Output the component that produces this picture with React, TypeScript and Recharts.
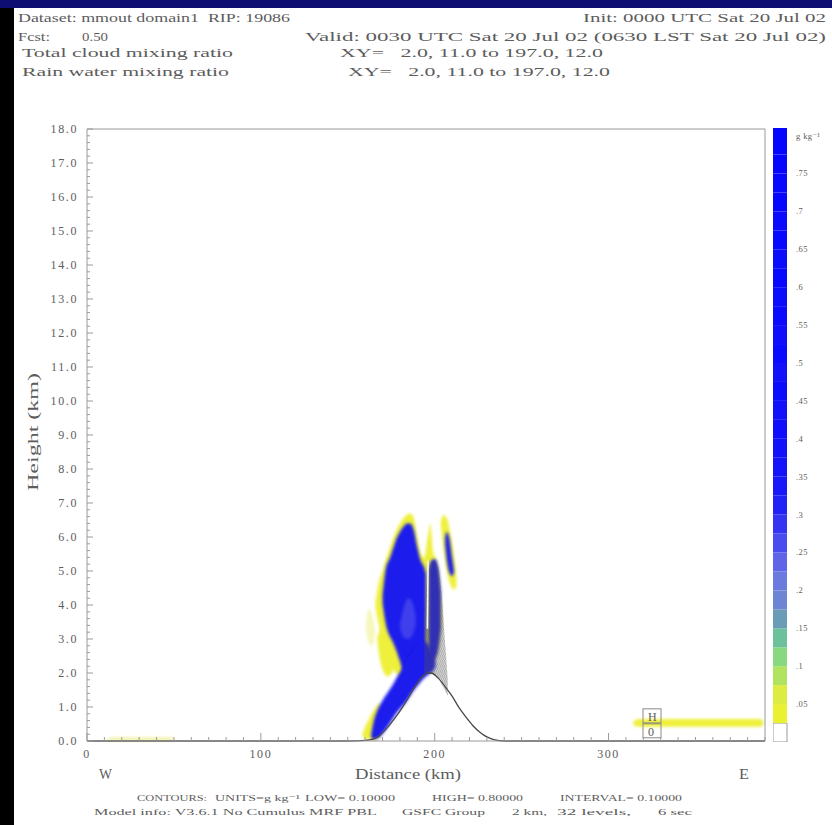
import React from "react";
import {
  ComposedChart,
  Area,
  Line,
  XAxis,
  YAxis,
  ReferenceDot,
  BarChart,
  Bar,
} from "recharts";

// ── Data ──────────────────────────────────────────────────────────────────────
// each cell: [distance km, bottom height km, top height km] of a shaded patch

type Cell = [number, number, number];

const surfaceStreak: Cell[] = [[12, 0.0, 0.06], [14, 0.0, 0.1], [48, 0.0, 0.1], [50, 0.0, 0.06]];
const eastBand: Cell[] = [[314, 0.5, 0.56], [317, 0.42, 0.65], [387, 0.42, 0.65], [389, 0.47, 0.6]];

const mainYellow: Cell[] = [
  [166, 3.9, 4.1], [168, 3.4, 4.7], [170, 3.0, 5.0], [172, 2.6, 5.35], [174, 2.3, 5.65],
  [176, 2.1, 5.95], [178, 2.0, 6.2], [180, 1.9, 6.4], [182, 1.8, 6.55], [184, 1.7, 6.65],
  [186, 1.7, 6.7], [188, 1.8, 6.55], [190, 1.9, 6.0], [192, 2.0, 5.5], [194, 2.1, 5.4],
  [196, 2.2, 6.0], [197.5, 2.2, 6.4], [199, 2.3, 5.6], [201, 2.5, 5.3], [203, 3.0, 4.6], [204, 3.5, 3.7],
];
const bandYellow: Cell[] = [
  [158.5, 0.15, 0.2], [160, 0.06, 0.42], [162, 0.04, 0.62], [164, 0.04, 0.82],
  [166, 0.05, 0.98], [168, 0.1, 1.1], [169.5, 0.3, 0.9],
];
const streakYellow: Cell[] = [
  [167, 2.95, 3.05], [168.5, 2.4, 3.25], [170.5, 2.05, 3.35], [172.5, 1.9, 3.2],
  [174.5, 1.95, 2.95], [176.5, 2.15, 2.6], [177.5, 2.35, 2.4],
];
const faintYellow: Cell[] = [[160.5, 3.3, 3.4], [162, 2.9, 3.9], [164, 2.8, 3.7], [165.5, 3.1, 3.3]];
const eastBlobYellow: Cell[] = [
  [203.5, 6.35, 6.45], [205, 5.7, 6.65], [207, 5.0, 6.55], [209, 4.6, 6.1], [211, 4.45, 5.5], [212.5, 4.55, 4.8],
];

const mainBlue: Cell[] = [
  [170, 4.05, 4.3], [172, 3.4, 5.1], [174, 3.1, 5.35], [176, 2.9, 5.65], [178, 2.65, 5.95],
  [180, 2.35, 6.15], [182, 2.0, 6.3], [184, 1.8, 6.4], [186, 1.8, 6.4], [188, 1.9, 6.2],
  [190, 2.0, 5.7], [192, 2.1, 5.3], [194, 2.2, 5.1], [195, 2.3, 4.9],
];
const columnBlue: Cell[] = [[196.5, 2.5, 5.0], [198, 2.3, 5.3], [200, 2.4, 5.35], [202, 2.7, 5.1], [203.5, 3.3, 4.4]];
const bandBlue: Cell[] = [
  [163.5, 0.08, 0.2], [165, 0.05, 0.6], [167, 0.08, 0.9], [169, 0.15, 1.1], [171, 0.28, 1.28],
  [173, 0.42, 1.43], [175, 0.58, 1.58], [177, 0.74, 1.76], [179, 0.88, 1.94], [181, 1.0, 2.1],
  [183, 1.12, 2.25], [185, 1.26, 2.42], [187, 1.42, 2.58], [189, 1.56, 2.72], [191, 1.68, 2.84],
  [193, 1.8, 2.92], [195, 1.9, 2.9], [197, 1.98, 2.78], [199, 2.05, 2.55], [200.5, 2.2, 2.3],
];
const eastBlobBlue: Cell[] = [[206, 5.8, 6.0], [207, 5.3, 6.15], [208.5, 4.95, 5.95], [210, 4.85, 5.4], [211, 4.95, 5.05]];
const mainLight: Cell[] = [[180, 3.35, 3.45], [182, 3.05, 3.9], [184.5, 3.0, 4.2], [187, 3.1, 4.1], [189, 3.4, 3.7]];
const cloudGrey: Cell[] = [
  [194, 2.0, 3.6], [196, 1.98, 4.9], [198, 1.98, 5.25], [200, 1.92, 5.3],
  [202, 1.84, 5.1], [204, 1.68, 4.3], [206, 1.47, 2.9], [207.5, 1.32, 1.8],
];

// white seam between the main cell and the eastern column
const seamKm = [195.8, 196.2];
const seamHeight = [3.3, 5.3];

const terrainKm = [0, 150, 160, 164, 168, 172, 176, 180, 184, 188, 192, 195, 198, 202, 206, 210, 214, 218, 222, 226, 230, 234, 240, 390];
const terrainHeight = [0, 0, 0.02, 0.05, 0.15, 0.35, 0.6, 0.88, 1.2, 1.55, 1.85, 1.98, 2.0, 1.85, 1.6, 1.32, 0.98, 0.7, 0.45, 0.26, 0.12, 0.04, 0, 0];

const boxLabels = [
  { km: 325, h: 0.74, text: "H" },
  { km: 325, h: 0.3, text: "0" },
];

const xLabelTicks = [0, 100, 200, 300];
const xTicks = Array.from({ length: 40 }, (_, i) => i * 10);
const yTicks = Array.from({ length: 91 }, (_, i) => Math.round(i * 2) / 10);

// colour bar: level boundaries (g/kg) and fills, bottom to top
const cbBounds = [
  0, 0.025, 0.05, 0.075, 0.1, 0.125, 0.15, 0.175, 0.2, 0.225, 0.25, 0.275, 0.3, 0.325, 0.35, 0.375,
  0.4, 0.425, 0.45, 0.475, 0.5, 0.525, 0.55, 0.575, 0.6, 0.625, 0.65, 0.675, 0.7, 0.725, 0.75, 0.775, 0.81,
];
const cbColors = [
  "#ffffff", "#eaf032", "#dcec40", "#b0e460", "#88d880", "#6cc09c", "#6a9cb8", "#6c86d4",
  "#6a7ade", "#6064e6", "#4a4cee", "#3434f2", "#2222f6", "#1818f8", "#1414fa", "#1010fb",
  "#0e0efc", "#1212fa", "#0c0cfd", "#1010fb", "#0a0afe", "#0e0efc", "#0a0afe", "#0c0cfd",
  "#0808ff", "#0c0cfd", "#0808ff", "#0a0afe", "#0606ff", "#0808ff", "#0606ff", "#0404ff",
];
const cbTicks = [0.05, 0.1, 0.15, 0.2, 0.25, 0.3, 0.35, 0.4, 0.45, 0.5, 0.55, 0.6, 0.65, 0.7, 0.75, 0.8];

// ── Style ─────────────────────────────────────────────────────────────────────

const SERIF = "'Liberation Serif', 'DejaVu Serif', serif";
const INK = "#5c5c5c";
const FRAME = "#9a9a9a";
const BLUE = "#1c1cec";
const YELLOW = "#eef03a";

const toRange = (cells: Cell[]) => cells.map(([km, lo, hi]) => ({ km, v: [lo, hi] }));
const toLine = (km: number[], h: number[]) => km.map((k, i) => ({ km: k, v: h[i] }));
const isWhole = (v: number) => Math.abs(v - Math.round(v)) < 1e-6;

// ── Ticks ─────────────────────────────────────────────────────────────────────

function BottomTick({ x, y, payload }: any) {
  const major = payload.value % 100 === 0;
  return (
    <g>
      <line x1={x} x2={x} y1={y} y2={y - (major ? 8 : 4)} stroke={FRAME} />
      {xLabelTicks.includes(payload.value) && (
        <text x={x} y={y + 17} textAnchor="middle" fontFamily={SERIF} fontSize={12} letterSpacing={1.6} fill={INK}>
          {payload.value}
        </text>
      )}
    </g>
  );
}

function TopTick({ x, y, payload }: any) {
  const major = payload.value % 100 === 0;
  return <line x1={x} x2={x} y1={y} y2={y + (major ? 8 : 4)} stroke={FRAME} />;
}

function LeftTick({ x, y, payload }: any) {
  const whole = isWhole(payload.value);
  return (
    <g>
      <line x1={x} x2={x + (whole ? 6 : 3)} y1={y} y2={y} stroke={FRAME} />
      {whole && (
        <text x={x - 9} y={y + 4} textAnchor="end" fontFamily={SERIF} fontSize={12} letterSpacing={1.6} fill={INK}>
          {payload.value.toFixed(1)}
        </text>
      )}
    </g>
  );
}

function RightTick({ x, y, payload }: any) {
  const whole = isWhole(payload.value);
  return <line x1={x} x2={x - (whole ? 6 : 3)} y1={y} y2={y} stroke={FRAME} />;
}

function ColorbarTick({ x, y, payload }: any) {
  const v = payload.value;
  const label = v === 0.8 ? "g kg\u207B\u00B9" : String(v).replace(/^0/, "");
  return (
    <text x={x + 9} y={y + 3} fontFamily={SERIF} fontSize={8.5} letterSpacing={0.4} fill={INK}>
      {label}
    </text>
  );
}

const boxShape = (text: string) => (p: any) => (
  <g>
    <rect x={p.cx - 9} y={p.cy - 7} width={18} height={14} fill="none" stroke="#8a8a8a" />
    <text x={p.cx - 4} y={p.cy + 5} fontFamily={SERIF} fontSize={12} fill={INK}>{text}</text>
  </g>
);

// ── Page text ────────────────────────────────────────────────────────────────

const pageText = [
  { t: "Dataset: mmout domain1  RIP: 19086", x: 18, y: 22, w: 272, s: 13 },
  { t: "Init: 0000 UTC Sat 20 Jul 02", x: 583, y: 22, w: 243, s: 13 },
  { t: "Fcst:", x: 18, y: 41, w: 32, s: 13 },
  { t: "0.50", x: 82, y: 41, w: 26, s: 13 },
  { t: "Valid: 0030 UTC Sat 20 Jul 02 (0630 LST Sat 20 Jul 02)", x: 305, y: 41, w: 521, s: 13 },
  { t: "Total cloud mixing ratio", x: 22, y: 57, w: 211, s: 13 },
  { t: "XY=   2.0, 11.0 to 197.0, 12.0", x: 340, y: 57, w: 263, s: 13 },
  { t: "Rain water mixing ratio", x: 22, y: 76, w: 207, s: 13 },
  { t: "XY=   2.0, 11.0 to 197.0, 12.0", x: 348, y: 76, w: 262, s: 13 },
  { t: "W", x: 99, y: 779, w: 13, s: 14 },
  { t: "Distance (km)", x: 355, y: 779, w: 106, s: 14 },
  { t: "E", x: 739, y: 779, w: 10, s: 14 },
  { t: "CONTOURS:", x: 137, y: 801, w: 70, s: 9 },
  { t: "UNITS=g kg\u207B\u00B9", x: 215, y: 801, w: 85, s: 9 },
  { t: "LOW= 0.10000", x: 305, y: 801, w: 90, s: 9 },
  { t: "HIGH= 0.80000", x: 432, y: 801, w: 91, s: 9 },
  { t: "INTERVAL= 0.10000", x: 560, y: 801, w: 122, s: 9 },
  { t: "Model info: V3.6.1 No Cumulus MRF PBL", x: 94, y: 815, w: 283, s: 9 },
  { t: "GSFC Group", x: 402, y: 815, w: 83, s: 9 },
  { t: "2 km,", x: 512, y: 815, w: 35, s: 9 },
  { t: "32 levels,", x: 557, y: 815, w: 74, s: 9 },
  { t: "6 sec", x: 658, y: 815, w: 34, s: 9 },
];

// ── Component ─────────────────────────────────────────────────────────────────

const shaded: { cells: Cell[]; fill: string; opacity?: number }[] = [
  { cells: surfaceStreak, fill: "#f0f0a4" },
  { cells: eastBand, fill: YELLOW },
  { cells: faintYellow, fill: "#f2f49a", opacity: 0.7 },
  { cells: mainYellow, fill: YELLOW },
  { cells: bandYellow, fill: YELLOW },
  { cells: streakYellow, fill: YELLOW },
  { cells: eastBlobYellow, fill: YELLOW },
  { cells: mainBlue, fill: BLUE },
  { cells: columnBlue, fill: BLUE },
  { cells: bandBlue, fill: BLUE },
  { cells: eastBlobBlue, fill: BLUE },
  { cells: mainLight, fill: "#4848ee", opacity: 0.8 },
];

export default function App() {
  const cbRow: Record<string, number | string> = { name: "cb" };
  cbColors.forEach((_, i) => (cbRow[`l${i}`] = +(cbBounds[i + 1] - cbBounds[i]).toFixed(4)));

  return (
    <div style={{ position: "absolute", left: 0, top: 0, width: 832, height: 825, background: "#fff", overflow: "hidden" }}>
      <style>{`.soft{filter:url(#soft)} .soft2{filter:url(#soft2)}`}</style>
      <svg width={0} height={0} style={{ position: "absolute" }}>
        <defs>
          <filter id="soft" filterUnits="userSpaceOnUse" x="0" y="0" width="832" height="825">
            <feGaussianBlur stdDeviation="1.4" />
          </filter>
          <filter id="soft2" filterUnits="userSpaceOnUse" x="0" y="0" width="832" height="825">
            <feGaussianBlur stdDeviation="0.6" />
          </filter>
          <pattern id="cloudHatch" width="2" height="5" patternUnits="userSpaceOnUse">
            <line x1="0.8" y1="0" x2="1.2" y2="5" stroke="#505050" strokeWidth="0.8" />
          </pattern>
        </defs>
      </svg>

      <div style={{ position: "absolute", left: 0, top: 0, width: 832, height: 8, background: "#0d0d72" }} />
      <div style={{ position: "absolute", left: 0, top: 8, width: 14, height: 817, background: "#000" }} />

      <div style={{ position: "absolute", left: 0, top: 0 }}>
        <ComposedChart width={832} height={825} margin={{ top: 128, right: 66, bottom: 83, left: 86 }}>
          <XAxis xAxisId="b" dataKey="km" type="number" domain={[0, 390]} ticks={xTicks} interval={0}
            height={1} tickSize={0} tickMargin={0} tickLine={false} axisLine={{ stroke: FRAME }} tick={<BottomTick />} />
          <XAxis xAxisId="t" orientation="top" dataKey="km" type="number" domain={[0, 390]} ticks={xTicks} interval={0}
            height={1} tickSize={0} tickMargin={0} tickLine={false} axisLine={{ stroke: FRAME }} tick={<TopTick />} />
          <YAxis yAxisId="l" type="number" domain={[0, 18]} ticks={yTicks} interval={0}
            width={1} tickSize={0} tickMargin={0} tickLine={false} axisLine={{ stroke: FRAME }} tick={<LeftTick />} />
          <YAxis yAxisId="r" orientation="right" type="number" domain={[0, 18]} ticks={yTicks} interval={0}
            width={1} tickSize={0} tickMargin={0} tickLine={false} axisLine={{ stroke: FRAME }} tick={<RightTick />} />

          {shaded.map((s, i) => (
            <Area key={i} data={toRange(s.cells)} dataKey="v" xAxisId="b" yAxisId="l" type="monotone"
              stroke="none" fill={s.fill} fillOpacity={s.opacity ?? 1} className="soft"
              dot={false} activeDot={false} isAnimationActive={false} />
          ))}
          <Area data={toRange(cloudGrey)} dataKey="v" xAxisId="b" yAxisId="l" type="monotone"
            stroke="none" fill="url(#cloudHatch)" fillOpacity={0.9} className="soft2"
            dot={false} activeDot={false} isAnimationActive={false} />
          <Line data={toLine(seamKm, seamHeight)} dataKey="v" xAxisId="b" yAxisId="l" type="linear"
            stroke="#f4f4ff" strokeWidth={1.6} dot={false} activeDot={false} className="soft2" isAnimationActive={false} />
          <Line data={toLine(terrainKm, terrainHeight)} dataKey="v" xAxisId="b" yAxisId="l" type="monotone"
            stroke="#484848" strokeWidth={1.3} dot={false} activeDot={false} isAnimationActive={false} />

          {boxLabels.map((b) => (
            <ReferenceDot key={b.text} x={b.km} y={b.h} xAxisId="b" yAxisId="l" r={0} ifOverflow="visible" shape={boxShape(b.text)} />
          ))}
        </ComposedChart>
      </div>

      <div style={{ position: "absolute", left: 773, top: 128 }}>
        <BarChart width={59} height={614} data={[cbRow]} margin={{ top: 0, right: 0, bottom: 0, left: 0 }} barCategoryGap={0} barGap={0}>
          <XAxis dataKey="name" hide />
          <YAxis orientation="right" type="number" domain={[0, 0.81]} ticks={cbTicks} interval={0} width={45}
            axisLine={false} tickLine={false} tickSize={0} tickMargin={0} tick={<ColorbarTick />} />
          {cbColors.map((c, i) => (
            <Bar key={i} dataKey={`l${i}`} stackId="cb" fill={c} stroke={i === 0 ? "#9a9a9a" : "none"} isAnimationActive={false} />
          ))}
        </BarChart>
      </div>

      <svg width={832} height={825} style={{ position: "absolute", left: 0, top: 0, pointerEvents: "none" }}>
        {pageText.map((p, i) => (
          <text key={i} x={p.x} y={p.y} fontFamily={SERIF} fontSize={p.s} fill={INK}
            textLength={p.w} lengthAdjust="spacingAndGlyphs" style={{ whiteSpace: "pre" }}>
            {p.t}
          </text>
        ))}
        <text x={38} y={432} transform="rotate(-90 38 432)" textAnchor="middle" fontFamily={SERIF} fontSize={15}
          fill={INK} textLength={118} lengthAdjust="spacingAndGlyphs">
          Height (km)
        </text>
      </svg>
    </div>
  );
}
